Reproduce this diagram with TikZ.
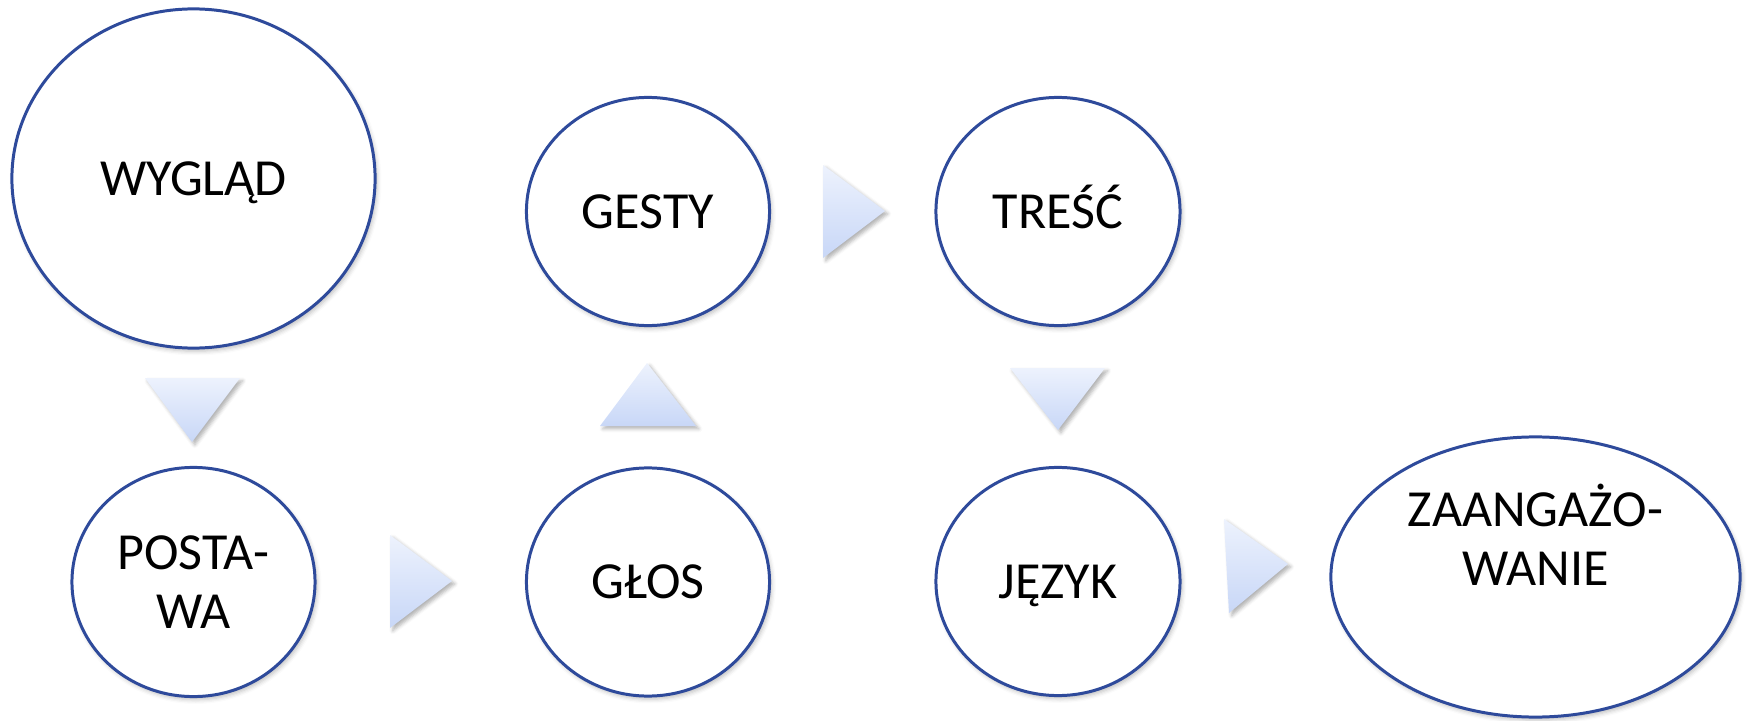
\documentclass[tikz,border=0pt]{standalone}
\usepackage{fontspec}
\setmainfont{Carlito}
\usepackage{tikz}
\usetikzlibrary{shapes.geometric,shadows.blur}

\definecolor{ringblue}{RGB}{46,74,155}
\definecolor{tritop}{RGB}{237,242,253}
\definecolor{tribot}{RGB}{200,215,247}

\tikzset{
  ring/.style={ellipse, draw=ringblue, line width=0.85pt, fill=white, inner sep=0pt,
    font=\fontsize{14.8}{16.7}\selectfont, align=center,
    blur shadow={shadow xshift=0.6pt, shadow yshift=-0.9pt, shadow blur radius=1.2pt, shadow opacity=25}},
  oneline/.style={text height=9.5pt, text depth=0pt},
  arrowtri/.style={top color=tritop, bottom color=tribot,
    blur shadow={shadow xshift=0.8pt, shadow yshift=-0.8pt, shadow blur radius=1pt, shadow opacity=30}},
}

\begin{document}
\begin{tikzpicture}[x=0.01cm, y=-0.01cm]
      \useasboundingbox (0, 0) rectangle (1747, 721);
      % circles
      \node[ring, oneline, minimum width=3.63cm, minimum height=3.39cm] (wyglad) at (193.5, 178.5) {WYGLĄD};
      \node[ring, minimum width=2.43cm, minimum height=2.29cm] (postawa) at (193.5, 582) {POSTA-\\WA};
      \node[ring, oneline, minimum width=2.43cm, minimum height=2.28cm] (glos) at (648, 582) {GŁOS};
      \node[ring, oneline, minimum width=2.43cm, minimum height=2.28cm] (gesty) at (648, 211.5) {GESTY};
      \node[ring, oneline, minimum width=2.44cm, minimum height=2.28cm] (tresc) at (1058, 211.5) {TREŚĆ};
      \node[ring, oneline, minimum width=2.44cm, minimum height=2.28cm] (jezyk) at (1058, 581.5) {JĘZYK};
      \node[ring, minimum width=4.09cm, minimum height=2.80cm] (zaang) at (1535.5, 577) {};
      \node[font=\fontsize{14.8}{16.7}\selectfont, align=center] (zaang-txt) at (1535.5, 535) {ZAANGAŻO-\\WANIE};
      % arrows between the circles
      \shade[arrowtri] (145, 378) -- (240, 378) -- (192, 442) -- cycle;
      \shade[arrowtri] (390, 535) -- (452, 581) -- (390, 628) -- cycle;
      \shade[arrowtri] (600, 426) -- (647, 363) -- (696, 426) -- cycle;
      \shade[arrowtri] (823, 165) -- (885, 211) -- (823, 258) -- cycle;
      \shade[arrowtri] (1010, 368) -- (1105, 368) -- (1058, 430) -- cycle;
      \shade[arrowtri] (1224, 519) -- (1288, 564) -- (1229, 613) -- cycle;
    \end{tikzpicture}
\end{document}
